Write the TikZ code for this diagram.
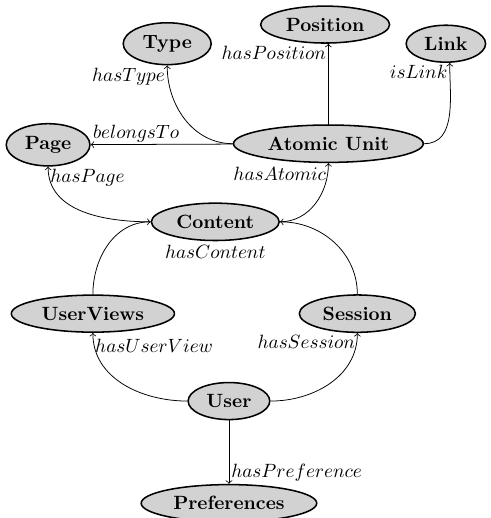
\documentclass[tikz,border=0pt]{standalone}
\usepackage{amsmath}
\usepackage{tikz}
\usetikzlibrary{shapes,arrows,positioning}
\tikzset{
    concept/.style={
    ellipse,draw=black,fill=gray!35,thick,font=\bfseries
    },
    rel/.style={
    inner sep=1pt
    },
}

\begin{document}
\begin{tikzpicture}[>=to, auto]
   \useasboundingbox (0,0) rectangle (8.97,9.48);
   \node[concept] (position) at (5.95,9.03) {Position};
   \node[concept] (type) at (3.06,8.68) {Type};
   \node[concept] (link) at (8.16,8.68) {Link};
   \node[concept] (page) at (0.88,6.83) {Page};
   \node[concept] (atomic) at (6.01,6.85) {Atomic Unit};
   \node[concept] (content) at (3.94,5.42) {Content};
   \node[concept] (userviews) at (1.70,3.74) {UserViews};
   \node[concept] (session) at (6.54,3.74) {Session};
   \node[concept] (user) at (4.19,2.14) {User};
   \node[concept] (prefs) at (4.19,0.27) {Preferences};
   \node[rel,below=1pt of content] (hascontent) {$hasContent$};

  \path[->]
    (atomic) edge node[rel,at end,anchor=north east] (hasposition) {$hasPosition$} (atomic.north |- position.south)
             edge[out=180,in=-90] node[rel,at end,anchor=north east] (hastype) {$hasType$} (type)
             edge[out=0,in=-90] node[rel,at end,anchor=north east] (islink) {$isLink$} ([xshift=2pt]link.south)
             edge node[rel,at end,anchor=south west] (belongsto) {$belongsTo$} (page)
    (content) edge[out=180,in=-90] node[rel,at end,anchor=north west] (haspage) {$hasPage$} (page)
              edge[out=0,in=-90] node[rel,at end,anchor=north east,yshift=-1pt] (hasatomic) {$hasAtomic$} (atomic)
    (userviews) edge[out=90,in=180] (content)
    (session) edge[out=90,in=0] (content)
    (user) edge[out=180,in=-90] node[rel,at end,anchor=north west,yshift=-2pt] (hasuserview) {$hasUserView$} (userviews)
           edge[out=0,in=-90] node[rel,at end,anchor=north east] (hassession) {$hasSession$} (session)
           edge node[rel,at end,anchor=south west] (haspreference) {$hasPreference$} (prefs);
\end{tikzpicture}
\end{document}
